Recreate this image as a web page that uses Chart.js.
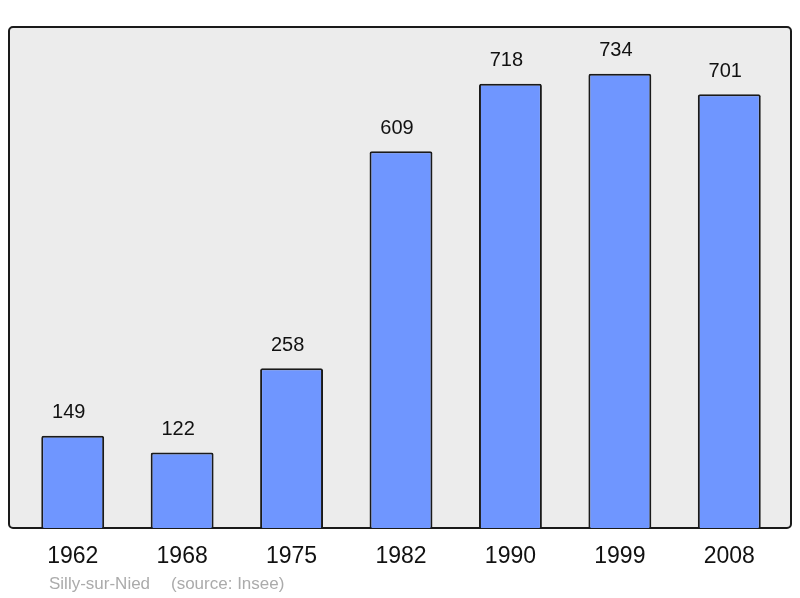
<!DOCTYPE html>
<html lang="fr">
<head>
<meta charset="UTF-8">
<title>Silly-sur-Nied population</title>
<script src="https://cdn.jsdelivr.net/npm/chart.js"></script>
<style>
    body { margin: 0; background: #ffffff; }
    #wrap { width: 800px; height: 598px; position: relative; }
</style>
</head>
<body>
<div id="wrap"><canvas id="popChart" width="800" height="598"></canvas></div>
<script>
    // data
    const years = ['1962', '1968', '1975', '1982', '1990', '1999', '2008'];
    const population = [149, 122, 258, 609, 718, 734, 701];
    const place = 'Silly-sur-Nied';
    const source = '(source: Insee)';

    const FONT = '"Liberation Sans", Arial, sans-serif';

    // grey framed panel behind bars + labels
    const decor = {
        id: 'decor',
        beforeDatasetsDraw(chart) {
            const ctx = chart.ctx;
            ctx.save();
            ctx.beginPath();
            ctx.roundRect(9, 27, 782, 501, 4);
            ctx.fillStyle = '#ececec';
            ctx.fill();
            ctx.lineWidth = 2;
            ctx.strokeStyle = '#1a1a1a';
            ctx.stroke();
            ctx.restore();
        },
        afterDatasetsDraw(chart) {
            const ctx = chart.ctx;
            const x = chart.scales.x, y = chart.scales.y;
            ctx.save();
            ctx.fillStyle = '#111';
            ctx.textAlign = 'center';
            ctx.textBaseline = 'middle';
            ctx.font = '20px ' + FONT;
            // value labels sit a little left of the bar centre in the original
            population.forEach((v, i) => {
                ctx.fillText(String(v), x.getPixelForValue(i) - 4, y.getPixelForValue(v) - 23);
            });
            ctx.font = '23px ' + FONT;
            years.forEach((yr, i) => {
                ctx.fillText(yr, x.getPixelForValue(i), 557);
            });
            ctx.textAlign = 'left';
            ctx.fillStyle = '#ababab';
            ctx.font = '17px ' + FONT;
            ctx.fillText(place, 49, 584);
            ctx.fillText(source, 171, 584);
            ctx.restore();
        }
    };

    new Chart(document.getElementById('popChart'), {
        type: 'bar',
        data: {
            labels: years,
            datasets: [{
                data: population,
                backgroundColor: '#6f96ff',
                borderColor: '#1a1a1a',
                borderWidth: 2,
                borderRadius: 2,
                borderSkipped: 'bottom',
                barPercentage: 0.575,
                categoryPercentage: 1
            }]
        },
        options: {
            responsive: false,
            animation: false,
            layout: { padding: { left: 18, right: 16, top: 33, bottom: 70 } },
            plugins: { legend: { display: false }, tooltip: { enabled: false } },
            scales: {
                x: { display: false },
                y: { display: false, min: 0, max: 800 }
            }
        },
        plugins: [decor]
    });
</script>
</body>
</html>
